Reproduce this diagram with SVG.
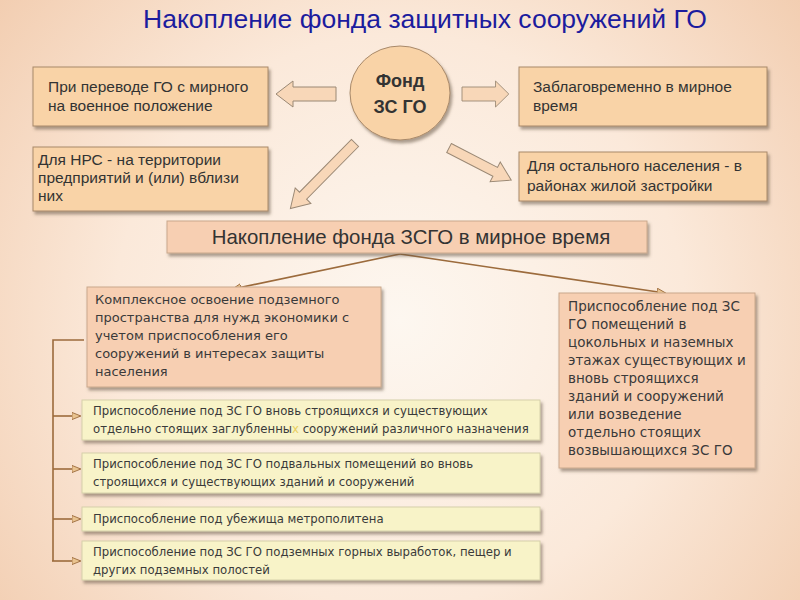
<svg xmlns="http://www.w3.org/2000/svg" width="800" height="600" viewBox="0 0 800 600">
<defs>
<radialGradient id="bg" cx="400" cy="320" r="520" gradientUnits="userSpaceOnUse">
<stop offset="0" stop-color="#fdf7f0"/>
<stop offset="0.55" stop-color="#fbe9da"/>
<stop offset="1" stop-color="#f2cdb0"/>
</radialGradient>
<filter id="sh" x="-10%" y="-10%" width="130%" height="140%">
<feDropShadow dx="2" dy="3" stdDeviation="1.5" flood-color="#6b5a4a" flood-opacity="0.55"/>
</filter>
<marker id="ah" viewBox="0 0 10 10" refX="9" refY="5" markerWidth="9" markerHeight="9" markerUnits="userSpaceOnUse" orient="auto">
<path d="M0,1 L10,5 L0,9 Z" fill="#e9c38f" stroke="#9c6b3c" stroke-width="1"/>
</marker>
<path id="bigArrow" d="M0,-7 L43,-7 L43,-13 L60,0 L43,13 L43,7 L0,7 Z"/>
<style>
.bg{fill:url(#bg)}
.box{fill:#f9d3a7;stroke:#a8896a;stroke-width:1;filter:url(#sh)}
.pink{fill:#f7cfb2;stroke:#c9a88c;stroke-width:1;filter:url(#sh)}
.yel{fill:#f8f3c8;stroke:#d6d0aa;stroke-width:1;filter:url(#sh)}
.t{font-family:"Liberation Sans",Arial,sans-serif;font-size:15.5px;fill:#333}
.d{font-family:"DejaVu Sans",Verdana,sans-serif;fill:#3a3a3a}
.title{font-family:"Liberation Sans",Arial,sans-serif;font-size:26.5px;fill:#1c1c9e}
.blk{fill:#f8d7b8;stroke:#9a8874;stroke-width:1}
.con{fill:none;stroke:#9c6b3c;stroke-width:1.6}
</style>
</defs>
<rect class="bg" x="0" y="0" width="800" height="600"/>
<text class="title" x="425" y="28" text-anchor="middle">Накопление фонда защитных сооружений ГО</text>

<g id="connectors">
<use href="#bigArrow" class="blk" transform="translate(336,94) rotate(180)"/>
<use href="#bigArrow" class="blk" transform="translate(462,94) scale(0.78,1)"/>
<path class="blk" d="M0,-5 L74,-5 L74,-11 L92,0 L74,11 L74,5 L0,5 Z" transform="translate(355,143) rotate(134.6)"/>
<path class="blk" d="M0,-5 L52,-5 L52,-11 L70,0 L52,11 L52,5 L0,5 Z" transform="translate(449,148) rotate(27.3)"/>
<line class="con" x1="400" y1="254" x2="233" y2="289" marker-end="url(#ah)"/>
<line class="con" x1="400" y1="254" x2="665" y2="293" marker-end="url(#ah)"/>
<path class="con" d="M84,340 H53 V561"/>
<line class="con" x1="53" y1="416" x2="80" y2="416" marker-end="url(#ah)"/>
<line class="con" x1="53" y1="469" x2="80" y2="469" marker-end="url(#ah)"/>
<line class="con" x1="53" y1="519" x2="80" y2="519" marker-end="url(#ah)"/>
<line class="con" x1="52" y1="561" x2="80" y2="561" marker-end="url(#ah)"/>
</g>

<g id="fond">
<ellipse cx="400" cy="93" rx="50" ry="47" fill="#f9d3a7" stroke="#a8896a" stroke-width="1" filter="url(#sh)"/>
<text x="400" y="87" text-anchor="middle" font-family="Liberation Sans,Arial,sans-serif" font-size="18" font-weight="bold" fill="#333">Фонд</text>
<text x="400" y="113" text-anchor="middle" font-family="Liberation Sans,Arial,sans-serif" font-size="18" font-weight="bold" fill="#333">ЗС ГО</text>
</g>

<g id="box1">
<rect class="box" x="33" y="67" width="235" height="59"/>
<text class="t" x="48" y="92">При переводе ГО с мирного</text>
<text class="t" x="48" y="111">на военное положение</text>
</g>
<g id="box2">
<rect class="box" x="519" y="67" width="248" height="59"/>
<text class="t" x="533" y="92">Заблаговременно в мирное</text>
<text class="t" x="533" y="111">время</text>
</g>
<g id="box3">
<rect class="box" x="33" y="147" width="235" height="64"/>
<text class="t" x="38" y="165">Для НРС - на территории</text>
<text class="t" x="38" y="183">предприятий и (или) вблизи</text>
<text class="t" x="38" y="201">них</text>
</g>
<g id="box4">
<rect class="box" x="519" y="152" width="248" height="49"/>
<text class="t" x="527" y="171">Для остального населения - в</text>
<text class="t" x="527" y="191">районах жилой застройки</text>
</g>

<g id="header">
<rect class="pink" x="167" y="221" width="480" height="32"/>
<text x="411" y="244" text-anchor="middle" font-family="Liberation Sans,Arial,sans-serif" font-size="20.4" fill="#333">Накопление фонда ЗСГО в мирное время</text>
</g>

<g id="left">
<rect class="pink" x="87" y="287" width="294" height="100"/>
<g class="d" font-size="13">
<text x="95" y="304">Комплексное освоение подземного</text>
<text x="95" y="322">пространства для нужд экономики с</text>
<text x="95" y="340">учетом приспособления его</text>
<text x="95" y="358">сооружений в интересах защиты</text>
<text x="95" y="376">населения</text>
</g>
</g>

<g id="right">
<rect class="pink" x="559" y="293" width="196" height="175"/>
<g class="d" font-size="13.5">
<text x="568" y="311">Приспособление под ЗС</text>
<text x="568" y="329">ГО помещений в</text>
<text x="568" y="347">цокольных и наземных</text>
<text x="568" y="365">этажах существующих и</text>
<text x="568" y="383">вновь строящихся</text>
<text x="568" y="401">зданий и сооружений</text>
<text x="568" y="419">или возведение</text>
<text x="568" y="437">отдельно стоящих</text>
<text x="568" y="455">возвышающихся ЗС ГО</text>
</g>
</g>

<g id="y1">
<rect class="yel" x="82" y="400" width="458" height="40"/>
<g class="d" font-size="11.7">
<text x="93" y="415">Приспособление под ЗС ГО вновь строящихся и существующих</text>
<text x="93" y="433">отдельно стоящих заглубленны<tspan fill="#e8d060">х</tspan> сооружений различного назначения</text>
</g>
</g>
<g id="y2">
<rect class="yel" x="82" y="453" width="458" height="40"/>
<g class="d" font-size="11.7">
<text x="93" y="468">Приспособление под ЗС ГО подвальных помещений во вновь</text>
<text x="93" y="486">строящихся и существующих зданий и сооружений</text>
</g>
</g>
<g id="y3">
<rect class="yel" x="82" y="507" width="458" height="24"/>
<text class="d" font-size="11.7" x="93" y="523">Приспособление под убежища метрополитена</text>
</g>
<g id="y4">
<rect class="yel" x="82" y="541" width="458" height="39"/>
<g class="d" font-size="11.7">
<text x="93" y="556">Приспособление под ЗС ГО подземных горных выработок, пещер и</text>
<text x="93" y="574">других подземных полостей</text>
</g>
</g>
</svg>
